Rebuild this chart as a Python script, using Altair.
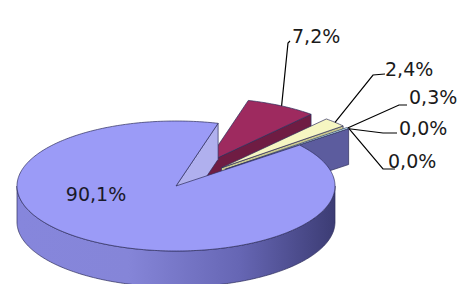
import altair as alt
import numpy as np
import pandas as pd

# ---------------- data ----------------
labels = ["90,1%", "7,2%", "2,4%", "0,3%", "0,0%", "0,0%"]
values = [90.1, 7.2, 2.4, 0.3, 0.0, 0.0]

# ---------------- styles ----------------
top_colors = ["#9B9BF7", "#9E2A5F", "#F6F6C2", "#CCFFFF", "#660066", "#FF8080"]
side_colors = ["#B0B0EE", "#6F1C43", "#C8C890", "#5C5C9E", "#5C5C9E", "#5C5C9E"]
edge_color = "#2E2E5C"

# ---------------- layout (chart pixels) ----------------
W, H = 449, 276
CX, CY = 168, 178          # centre of the pie's top face
RX, RY, DEPTH = 159, 65, 36
START = 51.0               # rotation of first slice (deg, clockwise from 12 o'clock)
EXPLODE = 0.40
label_x = [88, 284, 377, 401, 391, 380]
label_y = [187, 29, 62, 90, 121, 154]
lead_start_x = [None, 282, 377, 399, 389, 387]
lead_start_y = [None, 33, 66, 97, 125, 161]
lead_elbow_x = [None, 280, 365, 391, 375, 375]
lead_elbow_y = [None, 35, 67, 97, 125, 161]

# ---------------- geometry from the values ----------------
total = sum(values)
spans = [v / total * 360.0 for v in values]
a0 = START + np.concatenate([[0.0], np.cumsum(spans)[:-1]])
a1 = a0 + np.array(spans)


def P(theta, ox=0.0, oy=0.0, drop=0.0, r=1.0):
    t = np.radians(theta)
    return (CX + ox + RX * r * np.sin(t), CY + oy - RY * r * np.cos(t) + drop)


def arc(t0, t1, ox, oy, drop=0.0):
    n = max(2, int(abs(t1 - t0)) + 2)
    return [P(t, ox, oy, drop) for t in np.linspace(t0, t1, n)]


def offset(i):
    if i == 0:
        return 0.0, 0.0
    b = np.radians((a0[i] + a1[i]) / 2.0)
    return EXPLODE * RX * np.sin(b), -EXPLODE * RY * np.cos(b)


polys = []  # (name, points, fill)


def slice_polys(i):
    ox, oy = offset(i)
    c = (CX + ox, CY + oy)
    cb = (CX + ox, CY + oy + DEPTH)
    out = []
    # cut faces that face the viewer
    if 0 < (a1[i] % 360) < 180:
        out.append((f"s{i}_face_end", [c, P(a1[i], ox, oy), P(a1[i], ox, oy, DEPTH), cb], side_colors[i]))
    if 180 < (a0[i] % 360) < 360:
        out.append((f"s{i}_face_start", [c, P(a0[i], ox, oy), P(a0[i], ox, oy, DEPTH), cb], side_colors[i]))
    # front outer wall
    for lo_w, hi_w in [(90, 270), (450, 630)]:
        lo, hi = max(a0[i], lo_w), min(a1[i], hi_w)
        if hi > lo:
            pts = arc(lo, hi, ox, oy) + arc(hi, lo, ox, oy, DEPTH)
            out.append((f"s{i}_wall", pts, "gradient"))
    # top face
    out.append((f"s{i}_top", [c] + arc(a0[i], a1[i], ox, oy), top_colors[i]))
    return out


for i in range(1, len(values)):
    if spans[i] > 0:
        polys += slice_polys(i)
polys += slice_polys(0)

rows = []
for name, pts, _ in polys:
    for k, (x, y) in enumerate(pts):
        rows.append({"poly": name, "k": k, "x": x, "y": y})
df = pd.DataFrame(rows)

xs = alt.X("x:Q", scale=alt.Scale(domain=[0, W], nice=False, zero=False), axis=None)
ys = alt.Y("y:Q", scale=alt.Scale(domain=[0, H], nice=False, zero=False, reverse=True), axis=None)

wall_gradient = alt.Gradient(
    gradient="linear",
    stops=[
        alt.GradientStop(offset=0.0, color="#8686DC"),
        alt.GradientStop(offset=0.35, color="#8585D8"),
        alt.GradientStop(offset=0.7, color="#6666B4"),
        alt.GradientStop(offset=1.0, color="#3C3C74"),
    ],
    x1=0, y1=0, x2=1, y2=0,
)

layers = []
for name, _, fill in polys:
    f = wall_gradient if fill == "gradient" else fill
    layers.append(
        alt.Chart(df)
        .transform_filter(alt.datum.poly == name)
        .mark_line(interpolate="linear-closed", fill=f, stroke=edge_color,
                   strokeWidth=0.7, strokeJoin="round")
        .encode(x=xs, y=ys, order="k:Q")
    )

# leader lines
lead_rows = []
for i in range(1, len(values)):
    ox, oy = offset(i)
    b = (a0[i] + a1[i]) / 2.0
    end = P(b, ox, oy)
    pts = [(lead_start_x[i], lead_start_y[i]), (lead_elbow_x[i], lead_elbow_y[i]), end]
    for k, (x, y) in enumerate(pts):
        lead_rows.append({"lid": f"l{i}", "k": k, "x": x, "y": y})
lead_df = pd.DataFrame(lead_rows)
layers.append(
    alt.Chart(lead_df)
    .mark_line(stroke="#000000", strokeWidth=1.2)
    .encode(x=xs, y=ys, detail="lid:N", order="k:Q")
)

lab_df = pd.DataFrame({"text": labels, "x": label_x, "y": label_y,
                       "align": ["center"] + ["left"] * 5})
layers.append(
    alt.Chart(lab_df).transform_filter(alt.datum.align == "center")
    .mark_text(align="center", baseline="middle", font="DejaVu Sans", fontSize=19, color="#1A1A2A")
    .encode(x=xs, y=ys, text="text:N")
)
layers.append(
    alt.Chart(lab_df).transform_filter(alt.datum.align == "left")
    .mark_text(align="left", baseline="middle", font="DejaVu Sans", fontSize=19, color="#1A1A1A")
    .encode(x=xs, y=ys, text="text:N")
)

chart = (
    alt.layer(*layers)
    .properties(width=W, height=H, padding=0, autosize="none", background="#FFFFFF")
    .configure_view(stroke=None)
)

chart.save("out.html", embed_options={"renderer": "svg", "actions": False})
